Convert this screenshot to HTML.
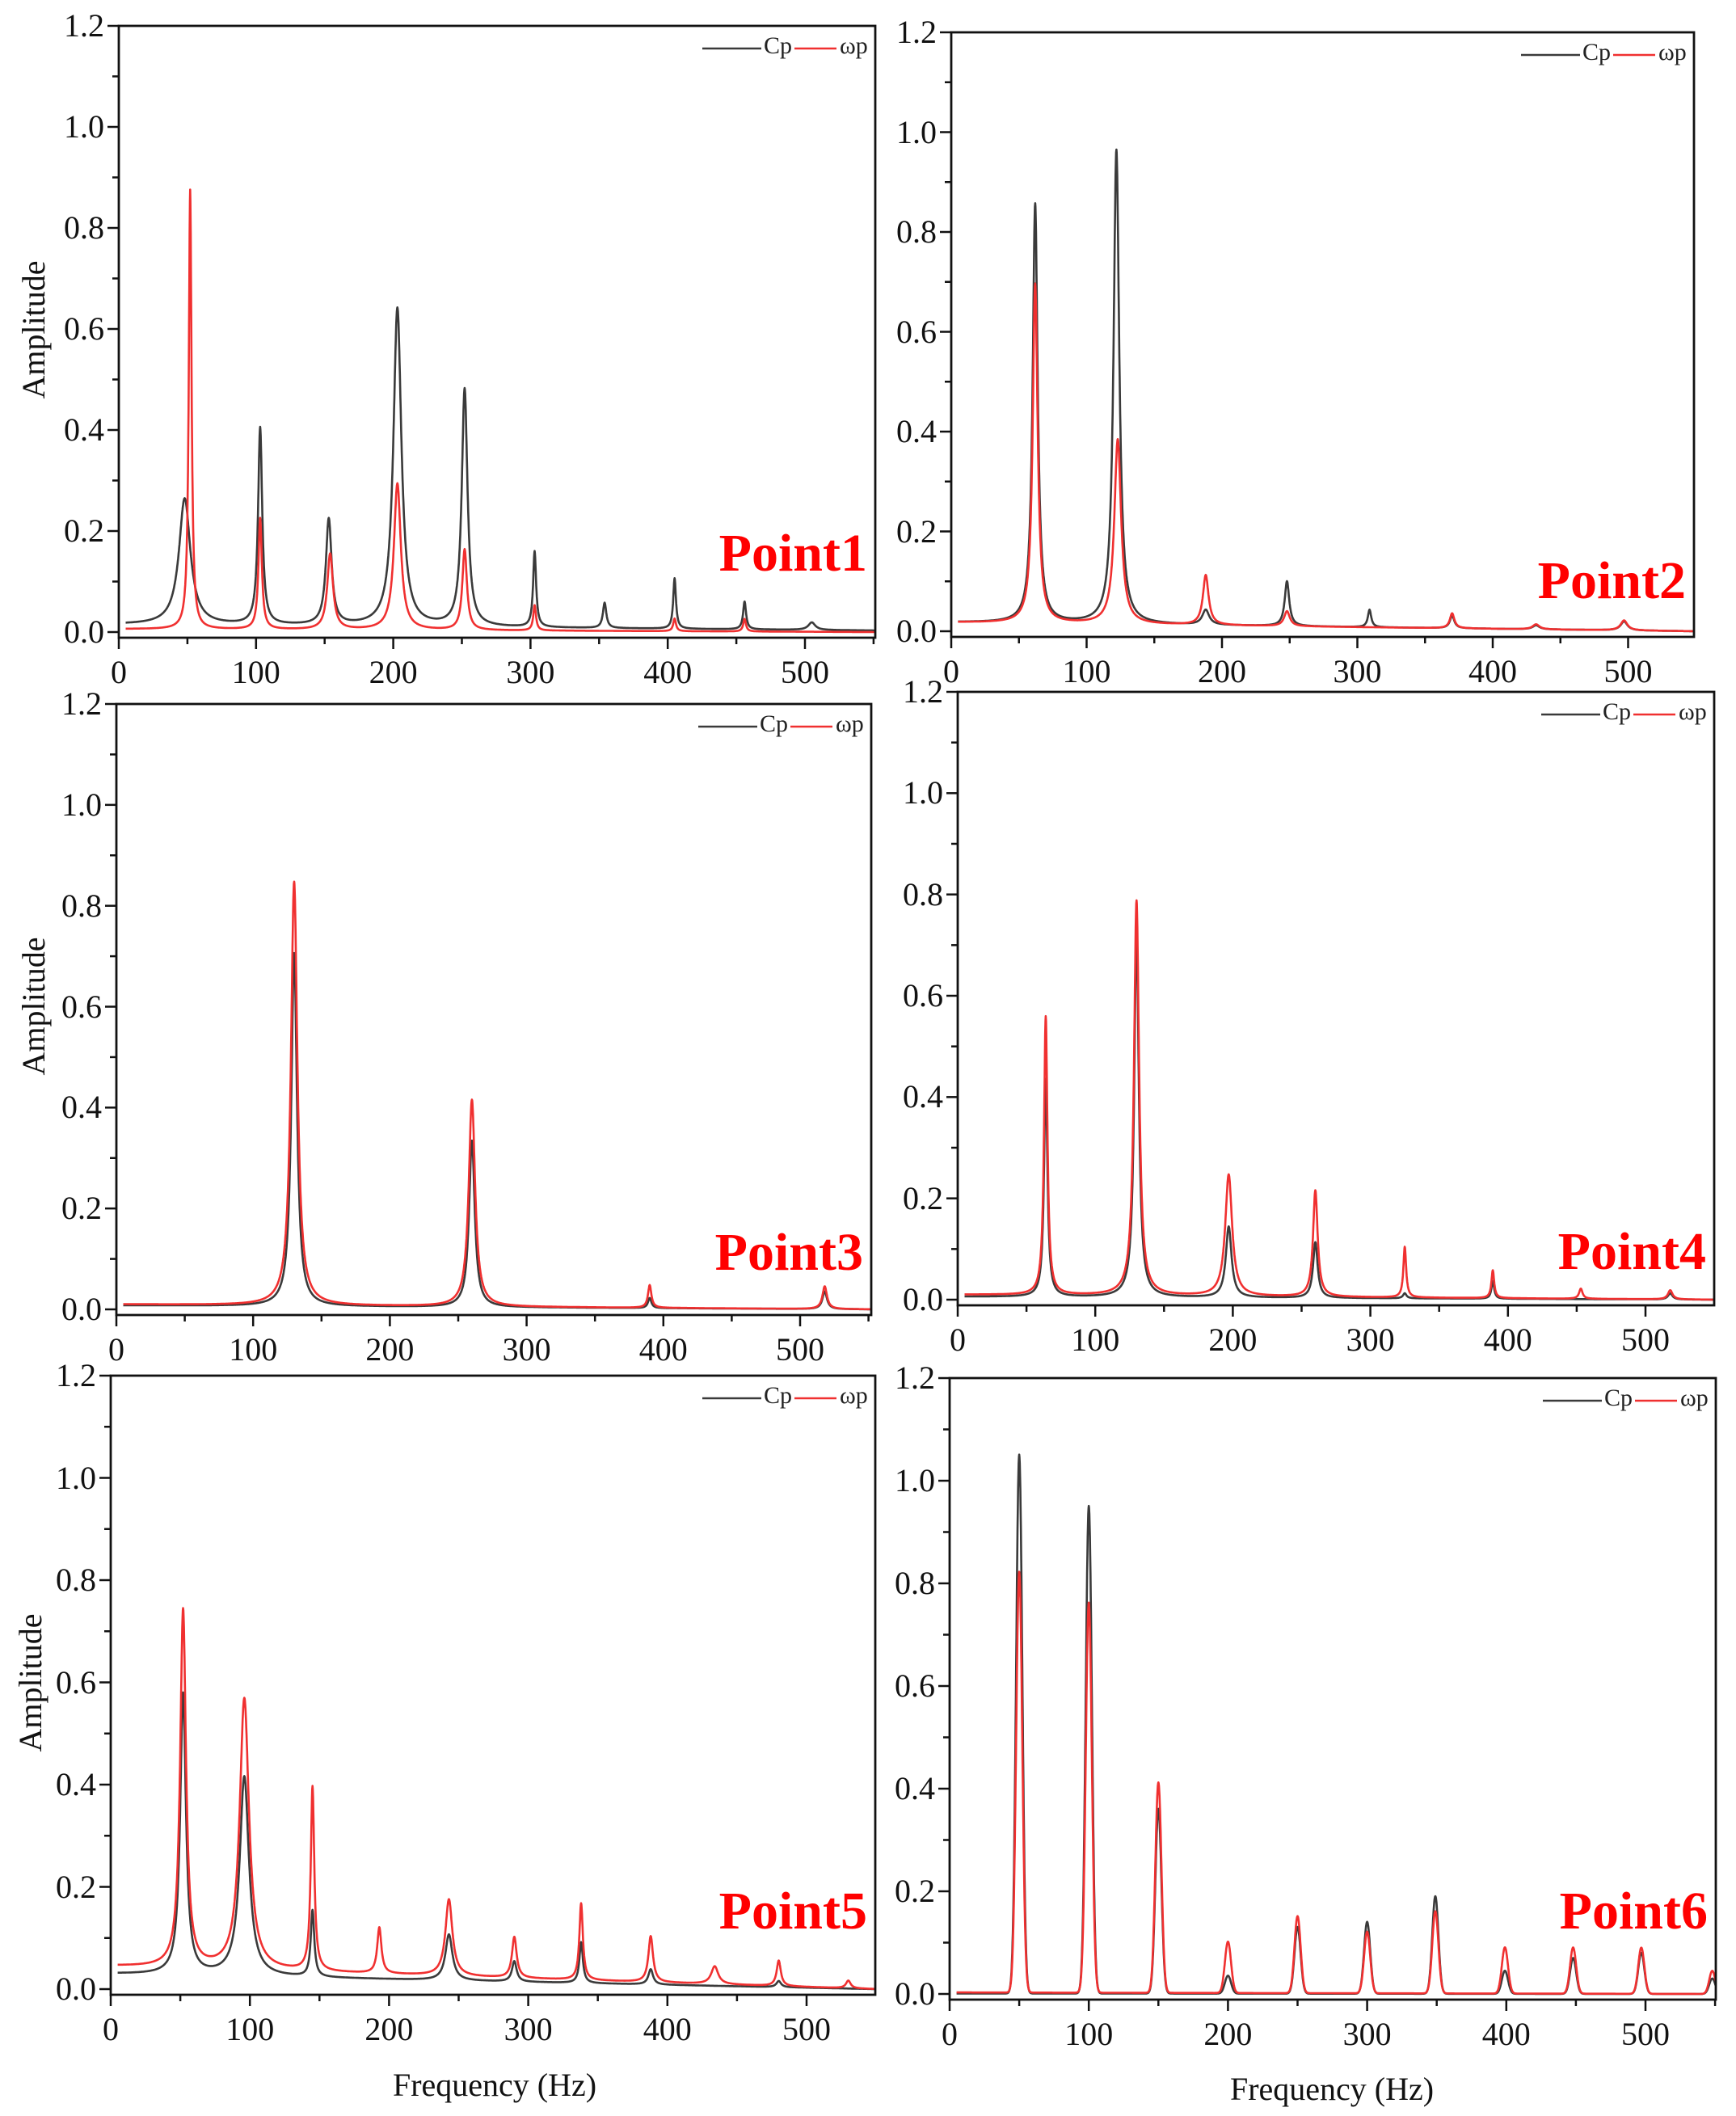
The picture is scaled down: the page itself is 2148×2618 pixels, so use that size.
<!DOCTYPE html>
<html><head><meta charset="utf-8">
<style>
html,body{margin:0;padding:0;background:#fff;}
body{width:2148px;height:2618px;position:relative;overflow:hidden;font-family:"Liberation Serif","DejaVu Serif",serif;}
svg#g{position:absolute;left:0;top:0;}
.t{position:absolute;font-family:"Liberation Serif","DejaVu Serif",serif;font-size:40px;color:#111;white-space:nowrap;line-height:1;}
.yl{text-align:right;width:80px;}
.xl{text-align:center;width:100px;}
.pt{position:absolute;font-family:"Liberation Serif","DejaVu Serif",serif;color:#f00;font-weight:bold;font-size:66px;line-height:1;white-space:nowrap;}
.lg{position:absolute;font-family:"Liberation Serif","DejaVu Serif",serif;font-size:30px;color:#222;line-height:1;white-space:nowrap;}
.ax{position:absolute;font-family:"Liberation Serif","DejaVu Serif",serif;font-size:40px;color:#111;line-height:1;white-space:nowrap;}
</style></head><body>
<svg id="g" width="2148" height="2618" xmlns="http://www.w3.org/2000/svg"></svg>

<div id="p1"><span class="t yl">0.0</span><span class="t yl">0.2</span><span class="t yl">0.4</span><span class="t yl">0.6</span><span class="t yl">0.8</span><span class="t yl">1.0</span><span class="t yl">1.2</span><span class="t xl">0</span><span class="t xl">100</span><span class="t xl">200</span><span class="t xl">300</span><span class="t xl">400</span><span class="t xl">500</span><span class="pt">Point1</span><span class="lg">Cp</span><span class="lg">ωp</span></div>
<div id="p2"><span class="t yl">0.0</span><span class="t yl">0.2</span><span class="t yl">0.4</span><span class="t yl">0.6</span><span class="t yl">0.8</span><span class="t yl">1.0</span><span class="t yl">1.2</span><span class="t xl">0</span><span class="t xl">100</span><span class="t xl">200</span><span class="t xl">300</span><span class="t xl">400</span><span class="t xl">500</span><span class="pt">Point2</span><span class="lg">Cp</span><span class="lg">ωp</span></div>
<div id="p3"><span class="t yl">0.0</span><span class="t yl">0.2</span><span class="t yl">0.4</span><span class="t yl">0.6</span><span class="t yl">0.8</span><span class="t yl">1.0</span><span class="t yl">1.2</span><span class="t xl">0</span><span class="t xl">100</span><span class="t xl">200</span><span class="t xl">300</span><span class="t xl">400</span><span class="t xl">500</span><span class="pt">Point3</span><span class="lg">Cp</span><span class="lg">ωp</span></div>
<div id="p4"><span class="t yl">0.0</span><span class="t yl">0.2</span><span class="t yl">0.4</span><span class="t yl">0.6</span><span class="t yl">0.8</span><span class="t yl">1.0</span><span class="t yl">1.2</span><span class="t xl">0</span><span class="t xl">100</span><span class="t xl">200</span><span class="t xl">300</span><span class="t xl">400</span><span class="t xl">500</span><span class="pt">Point4</span><span class="lg">Cp</span><span class="lg">ωp</span></div>
<div id="p5"><span class="t yl">0.0</span><span class="t yl">0.2</span><span class="t yl">0.4</span><span class="t yl">0.6</span><span class="t yl">0.8</span><span class="t yl">1.0</span><span class="t yl">1.2</span><span class="t xl">0</span><span class="t xl">100</span><span class="t xl">200</span><span class="t xl">300</span><span class="t xl">400</span><span class="t xl">500</span><span class="pt">Point5</span><span class="lg">Cp</span><span class="lg">ωp</span></div>
<div id="p6"><span class="t yl">0.0</span><span class="t yl">0.2</span><span class="t yl">0.4</span><span class="t yl">0.6</span><span class="t yl">0.8</span><span class="t yl">1.0</span><span class="t yl">1.2</span><span class="t xl">0</span><span class="t xl">100</span><span class="t xl">200</span><span class="t xl">300</span><span class="t xl">400</span><span class="t xl">500</span><span class="pt">Point6</span><span class="lg">Cp</span><span class="lg">ωp</span></div>

<div class="ax" style="left:42px;top:408px;transform:translate(-50%,-50%) rotate(-90deg);">Amplitude</div>
<div class="ax" style="left:42px;top:1245px;transform:translate(-50%,-50%) rotate(-90deg);">Amplitude</div>
<div class="ax" style="left:38px;top:2082px;transform:translate(-50%,-50%) rotate(-90deg);">Amplitude</div>
<div class="ax" style="left:612px;top:2580px;transform:translate(-50%,-50%);">Frequency (Hz)</div>
<div class="ax" style="left:1648px;top:2585px;transform:translate(-50%,-50%);">Frequency (Hz)</div>

<script>
var P=[
{id:'p1',L:147,T:32,B:782,R:1083,k:1.698,ptOff:80,shape:'l',
 cp:[[48,.25,5],[103,.39,1.8],[153,.21,2.5],[203,.63,3.5],[252,.47,2.5],[303,.15,1.3],[354,.05,1.5],[405,.1,1.2],[456,.055,1.3],[505,.015,3]],
 wp:[[52,.87,1.2],[103,.22,1.5],[154,.15,2.5],[203,.29,3],[252,.16,2],[303,.05,1.2],[405,.025,1.2],[456,.025,1.2]],
 cb:[0.015,0.003],wb:[0.006,0.0]},
{id:'p2',L:1177,T:40,B:781,R:2096,k:1.675,ptOff:45,shape:'l',
 cp:[[62,.84,2.2],[122,.95,2.5],[188,.03,3],[248,.09,2],[309,.035,1.5],[370,.025,2],[432,.008,3],[497,.018,3]],
 wp:[[62,.68,2.2],[123,.37,3],[188,.10,2.5],[248,.03,2.5],[370,.03,2],[432,.01,3],[497,.02,3]],
 cb:[0.018,0.0],wb:[0.018,0.0]},
{id:'p3',L:144,T:871,B:1620,R:1078,k:1.692,ptOff:53,shape:'l',
 cp:[[130,.70,2.5],[260,.33,2.5],[390,.02,1.5],[518,.035,2]],
 wp:[[130,.84,2.8],[260,.41,2.8],[390,.045,1.5],[518,.045,2]],
 cb:[0.008,0.0],wb:[0.01,0.0]},
{id:'p4',L:1185,T:856,B:1608,R:2121,k:1.702,ptOff:42,shape:'l',
 cp:[[64,.43,1.5],[130,.72,2],[197,.14,2.5],[260,.11,2],[325,.01,1.5],[389,.035,1.2],[518,.012,2]],
 wp:[[64,.55,1.5],[130,.78,2.2],[197,.24,3],[260,.21,2],[325,.10,1.2],[389,.055,1.2],[453,.02,1.5],[518,.018,2]],
 cb:[0.006,0.0],wb:[0.01,0.0]},
{id:'p5',L:137,T:1702,B:2461,R:1083,k:1.722,ptOff:79,shape:'l',
 cp:[[52,.55,2.5],[96,.39,4],[145,.13,1.5],[243,.09,3],[290,.04,2],[338,.08,1.5],[388,.03,2],[480,.012,2]],
 wp:[[52,.70,2.5],[96,.53,4],[145,.36,1.5],[193,.09,1.8],[243,.15,3],[290,.08,2],[338,.15,1.5],[388,.09,2],[434,.035,3],[480,.05,1.8],[530,.015,2]],
 cb:[0.03,0.0],wb:[0.045,0.0]},
{id:'p6',L:1175,T:1705,B:2467,R:2123,k:1.722,ptOff:85,shape:'g',
 cp:[[50,1.05,2.2],[100,.95,2.2],[150,.36,2.2],[200,.035,2.2],[250,.13,2.2],[300,.14,2.2],[349,.19,2.2],[399,.045,2.2],[448,.07,2.2],[497,.08,2.2],[548,.03,2.2]],
 wp:[[50,.82,2.2],[100,.76,2.2],[150,.41,2.2],[200,.10,2.2],[250,.15,2.2],[300,.12,2.2],[349,.16,2.2],[399,.09,2.2],[448,.09,2.2],[497,.09,2.2],[548,.045,2.2]],
 cb:[0.001,0.0],wb:[0.003,0.0]}
];
var svg=document.getElementById('g'),NS='http://www.w3.org/2000/svg';
function el(n,a){var e=document.createElementNS(NS,n);for(var k in a)e.setAttribute(k,a[k]);svg.appendChild(e);return e;}
P.forEach(function(p){
 var ys=(p.B-p.T)/1.2, fmax=(p.R-p.L)/p.k, FB=p.B+7;
 function Y(v){return p.B-v*ys;}
 function X(f){return p.L+f*p.k;}
 function curve(pk,base,col){
  var d='';
  for(var f=5;f<=fmax;f+=0.2){
   var v=base[0]+(base[1]-base[0])*f/fmax;
   pk.forEach(function(q){var df=f-q[0];
    if(p.shape=='g'){v+=q[1]*Math.exp(-df*df/(2*q[2]*q[2]));}
    else v+=q[1]*q[2]*q[2]/(df*df+q[2]*q[2]);});
   if(v>1.2)v=1.2;
   d+=(d?'L':'M')+X(f).toFixed(1)+','+Y(v).toFixed(1);
  }
  el('path',{d:d,fill:'none',stroke:col,'stroke-width':2.6,'stroke-linejoin':'round'});
 }
 curve(p.cp,p.cb,'#3a3a3a');
 curve(p.wp,p.wb,'#f03030');
 el('rect',{x:p.L,y:p.T,width:p.R-p.L,height:FB-p.T,fill:'none',stroke:'#111','stroke-width':2.8});
 for(var i=0;i<=12;i++){var y=Y(i*0.1),len=i%2?8:14;el('line',{x1:p.L-len,y1:y,x2:p.L,y2:y,stroke:'#111','stroke-width':2.5});}
 for(var f=0;f<=fmax;f+=50){var x=X(f),len=(f%100)?8:14;el('line',{x1:x,y1:FB,x2:x,y2:FB+len,stroke:'#111','stroke-width':2.5});}
 var c=document.getElementById(p.id).children;
 for(var i=0;i<7;i++){c[i].style.left=(p.L-98)+'px';c[i].style.top=(Y(i*0.2)-20)+'px';}
 for(var i=0;i<6;i++){c[7+i].style.left=(X(i*100)-50)+'px';c[7+i].style.top=(p.B+30)+'px';}
 var pt=c[13];pt.style.right=(2148-p.R+10)+'px';pt.style.top=(p.B-p.ptOff-50)+'px';
 var ly=p.T+28;
 var cpx=p.R-136, wpx=p.R-44;
 el('line',{x1:cpx-78,y1:ly,x2:cpx-5,y2:ly,stroke:'#3a3a3a','stroke-width':2.6});
 el('line',{x1:cpx+36,y1:ly,x2:wpx-4,y2:ly,stroke:'#f03030','stroke-width':2.6});
 c[14].style.left=(cpx-2)+'px';c[14].style.top=(ly-18)+'px';
 c[15].style.left=(wpx)+'px';c[15].style.top=(ly-18)+'px';
});
</script>
</body></html>
